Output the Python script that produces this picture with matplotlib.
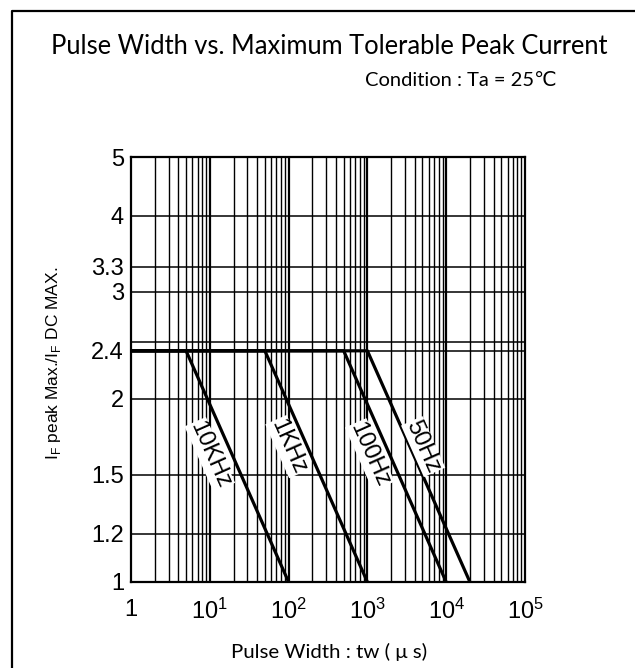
import numpy as np
import matplotlib
matplotlib.use("Agg")
import matplotlib.pyplot as plt
from matplotlib.lines import Line2D
from matplotlib import font_manager

# narrow sans for the graph labels, fall back to regular Liberation Sans
names = {f.name for f in font_manager.fontManager.ttflist}
narrow = 'Liberation Sans Narrow' if 'Liberation Sans Narrow' in names else 'Liberation Sans'
plt.rcParams['font.family'] = [narrow, 'DejaVu Sans']

# Curve data: flat at 2.4 until the break, then falls to 1.0 at tw = period
freq_labels = ['10KHz', '1KHz', '100Hz', '50Hz']
tw_start = [1, 1, 1, 1]
tw_break = [5, 50, 500, 1000]
tw_end = [100, 1000, 10000, 20000]
ratio_flat = 2.4
ratio_end = 1.0

# label anchor points along each curve
label_x = [10, 98, 1070, 5100]
label_y = [1.62, 1.67, 1.62, 1.67]

y_ticks = [1, 1.2, 1.5, 2, 2.4, 3, 3.3, 4, 5]
y_ticklabels = ['1', '1.2', '1.5', '2', '2.4', '3', '3.3', '4', '5']
x_ticks = [1, 10, 100, 1000, 10000, 100000]
x_ticklabels = ['1', r'$\mathregular{10^{1}}$', r'$\mathregular{10^{2}}$',
                r'$\mathregular{10^{3}}$', r'$\mathregular{10^{4}}$', r'$\mathregular{10^{5}}$']
extra_hgrid = [2.48]

fig = plt.figure(figsize=(6.35, 6.68), dpi=100)
ax = fig.add_axes([131 / 635, 1 - 582 / 668, (525 - 131) / 635, (582 - 157) / 668])
ax.set_xscale('log')
ax.set_yscale('log')
ax.set_xlim(1, 1e5)
ax.set_ylim(1, 5)

# vertical grid: every 1..9 inside each decade
for dec in range(5):
    for m in range(1, 10):
        v = m * 10 ** dec
        if v <= 1:
            continue
        ax.axvline(v, color='black', lw=1.6 if m == 1 else 1.0, zorder=1)
for v in y_ticks + extra_hgrid:
    ax.axhline(v, color='black', lw=1.1, zorder=1)

for x0, xb, xe in zip(tw_start, tw_break, tw_end):
    ax.plot([x0, xb, xe], [ratio_flat, ratio_flat, ratio_end],
            color='black', lw=2.3, solid_capstyle='butt', zorder=3)

# rotate labels to follow the sloped part of each curve
fig.canvas.draw()
for lab, lx, ly, xb, xe in zip(freq_labels, label_x, label_y, tw_break, tw_end):
    p1 = ax.transData.transform((xb, ratio_flat))
    p2 = ax.transData.transform((xe, ratio_end))
    ang = np.degrees(np.arctan2(p2[1] - p1[1], p2[0] - p1[0]))
    ax.text(lx, ly, lab, rotation=ang, rotation_mode='anchor',
            ha='center', va='center', fontsize=17, zorder=4,
            bbox=dict(facecolor='white', edgecolor='none', pad=0.5))

ax.set_xticks(x_ticks)
ax.set_xticklabels(x_ticklabels)
ax.set_xticks([], minor=True)
ax.set_yticks(y_ticks)
ax.set_yticklabels(y_ticklabels)
ax.set_yticks([], minor=True)
ax.tick_params(axis='both', length=0, labelsize=17)
ax.tick_params(axis='x', pad=12)
ax.tick_params(axis='y', pad=5)
for s in ax.spines.values():
    s.set_linewidth(1.6)

ax.set_ylabel(r'I$_\mathregular{F}$ peak Max./I$_\mathregular{F}$ DC MAX.',
              fontsize=12.5, family='Liberation Sans')
ax.yaxis.set_label_coords((63 - 131) / 394, (582 - 363) / 425)

fig.text(329 / 635, 1 - 46 / 668, 'Pulse Width vs. Maximum Tolerable Peak Current',
         ha='center', va='center', fontsize=18.4, family=['Lato', 'DejaVu Sans'])
fig.text(557 / 635, 1 - 81 / 668, 'Condition : Ta = 25\u2103',
         ha='right', va='center', fontsize=14.5, family=['Lato', 'DejaVu Sans'])
fig.text(329 / 635, 1 - 652 / 668, 'Pulse Width : tw ( \u03bc s)',
         ha='center', va='center', fontsize=14.7, family=['Lato', 'DejaVu Sans'])

# page frame on the left and top
fig.add_artist(Line2D([12 / 635, 12 / 635, 1], [0, 1 - 11 / 668, 1 - 11 / 668],
                      transform=fig.transFigure, color='black', lw=1.6))

fig.savefig('out.png', dpi=100, facecolor='white')
